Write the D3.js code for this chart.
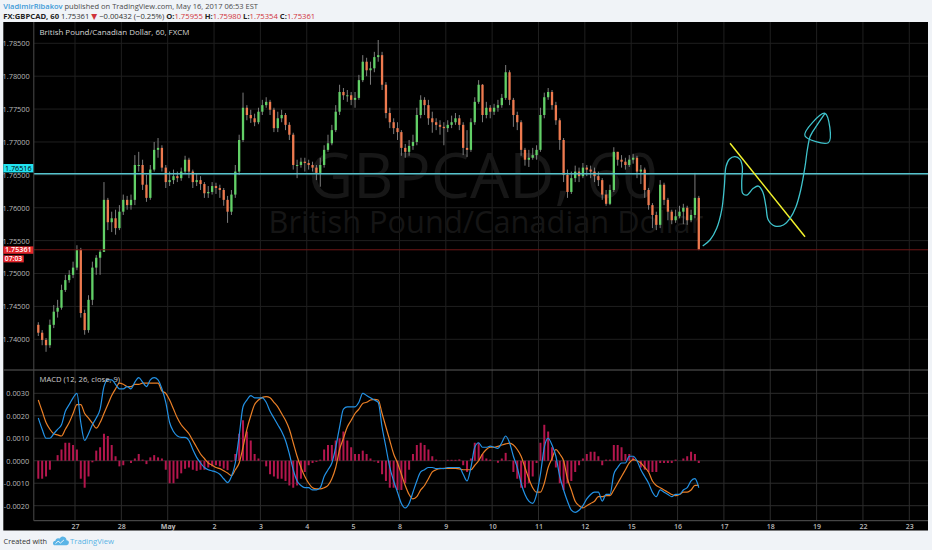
<!DOCTYPE html>
<html><head><meta charset="utf-8">
<script src="https://cdn.jsdelivr.net/npm/d3@7/dist/d3.min.js"></script>
<style>
html,body{margin:0;padding:0;background:#f0f3f7;}
svg{display:block;font-family:"Open Sans","DejaVu Sans",sans-serif;}
text{white-space:pre;}
</style>
</head><body>
<svg id="c" width="932" height="550"></svg>
<script>
// ---------------- DATA (2-hour bars, GBPCAD) ----------------
const barsBeforeFirstDay = 10;   // bars of Apr 26 shown before Apr 27
const barsPerDay = 12;
const firstOpen = 1.7422;
const closes = [
 1.7410,1.7399,1.7391,1.7422,1.7442,1.7448,1.7475,1.7490,1.7498,1.7509,
 1.7536,1.7440,1.7414,1.7460,1.7509,1.7524,1.7533,1.7612,1.7578,1.7584,1.7569,1.7594,
 1.7612,1.7604,1.7612,1.7665,1.7665,1.7635,1.7615,1.7658,1.7688,1.7691,1.7661,1.7639,
 1.7642,1.7648,1.7645,1.7655,1.7673,1.7655,1.7639,1.7642,1.7636,1.7622,1.7624,1.7633,
 1.7630,1.7627,1.7612,1.7594,1.7620,1.7655,1.7703,1.7752,1.7741,1.7736,1.7730,1.7746,
 1.7756,1.7761,1.7749,1.7721,1.7736,1.7741,1.7726,1.7711,1.7665,1.7665,1.7670,1.7668,
 1.7665,1.7661,1.7653,1.7665,1.7688,1.7698,1.7718,1.7746,1.7776,1.7771,1.7771,1.7764,
 1.7767,1.7794,1.7822,1.7809,1.7812,1.7829,1.7832,1.7787,1.7744,1.7730,1.7721,1.7715,
 1.7691,1.7685,1.7694,1.7700,1.7741,1.7764,1.7756,1.7736,1.7730,1.7726,1.7723,1.7721,
 1.7726,1.7730,1.7736,1.7726,1.7691,1.7688,1.7730,1.7761,1.7787,1.7741,1.7752,1.7746,
 1.7752,1.7756,1.7767,1.7806,1.7764,1.7741,1.7730,1.7688,1.7673,1.7676,1.7680,1.7688,
 1.7741,1.7768,1.7776,1.7756,1.7733,1.7703,1.7650,1.7624,1.7645,1.7655,1.7648,1.7661,
 1.7658,1.7655,1.7648,1.7642,1.7620,1.7606,1.7627,1.7685,1.7673,1.7670,1.7665,1.7673,
 1.7676,1.7655,1.7658,1.7627,1.7604,1.7589,1.7574,1.7635,1.7612,1.7594,1.7581,1.7587,
 1.7594,1.7600,1.7581,1.7589,1.7615,1.75361
];
const highs = [
 1.7426,1.7414,1.7402,1.7430,1.7452,1.7460,1.7483,1.7498,1.7505,1.7518,
 1.7543,1.7539,1.7445,1.7467,1.7518,1.7528,1.7536,1.7639,1.7615,1.7594,1.7597,1.7604,
 1.7620,1.7618,1.7620,1.7680,1.7685,1.7673,1.7650,1.7665,1.7700,1.7706,1.7695,1.7665,
 1.7655,1.7658,1.7655,1.7661,1.7679,1.7676,1.7658,1.7652,1.7648,1.7639,1.7633,1.7639,
 1.7638,1.7635,1.7630,1.7618,1.7627,1.7665,1.7711,1.7775,1.7756,1.7749,1.7743,1.7752,
 1.7764,1.7768,1.7764,1.7752,1.7746,1.7749,1.7744,1.7730,1.7714,1.7673,1.7676,1.7676,
 1.7673,1.7670,1.7665,1.7676,1.7695,1.7711,1.7726,1.7756,1.7787,1.7782,1.7779,1.7776,
 1.7776,1.7802,1.7832,1.7828,1.7822,1.7837,1.7855,1.7837,1.7791,1.7752,1.7736,1.7730,
 1.7718,1.7697,1.7703,1.7711,1.7752,1.7771,1.7768,1.7764,1.7746,1.7736,1.7733,1.7730,
 1.7733,1.7740,1.7744,1.7741,1.7730,1.7718,1.7736,1.7768,1.7794,1.7788,1.7761,1.7756,
 1.7758,1.7764,1.7773,1.7817,1.7809,1.7767,1.7746,1.7733,1.7691,1.7688,1.7691,1.7695,
 1.7752,1.7775,1.7782,1.7779,1.7761,1.7736,1.7706,1.7658,1.7655,1.7664,1.7661,1.7668,
 1.7665,1.7664,1.7661,1.7655,1.7645,1.7627,1.7635,1.7692,1.7685,1.7680,1.7676,1.7680,
 1.7682,1.7679,1.7665,1.7661,1.7630,1.7607,1.7594,1.7642,1.7638,1.7615,1.7597,1.7597,
 1.7603,1.7606,1.7603,1.7597,1.7653,1.7618
];
const lows = [
 1.7405,1.7391,1.7381,1.7387,1.7417,1.7433,1.7445,1.7472,1.7486,1.7493,
 1.7505,1.7433,1.7407,1.7410,1.7452,1.7498,1.7498,1.7533,1.7566,1.7563,1.7559,1.7566,
 1.7589,1.7597,1.7597,1.7604,1.7655,1.7627,1.7609,1.7612,1.7655,1.7676,1.7655,1.7630,
 1.7633,1.7636,1.7639,1.7641,1.7652,1.7645,1.7630,1.7633,1.7627,1.7615,1.7615,1.7620,
 1.7621,1.7615,1.7603,1.7577,1.7589,1.7615,1.7650,1.7700,1.7733,1.7729,1.7724,1.7727,
 1.7741,1.7752,1.7741,1.7715,1.7715,1.7730,1.7718,1.7703,1.7658,1.7645,1.7661,1.7655,
 1.7658,1.7655,1.7642,1.7632,1.7661,1.7685,1.7695,1.7715,1.7741,1.7764,1.7761,1.7756,
 1.7752,1.7764,1.7791,1.7800,1.7787,1.7806,1.7822,1.7779,1.7736,1.7721,1.7712,1.7703,
 1.7679,1.7676,1.7679,1.7688,1.7695,1.7736,1.7741,1.7726,1.7714,1.7718,1.7711,1.7695,
 1.7715,1.7721,1.7726,1.7718,1.7680,1.7677,1.7685,1.7726,1.7758,1.7730,1.7736,1.7736,
 1.7741,1.7746,1.7752,1.7764,1.7756,1.7723,1.7718,1.7679,1.7664,1.7662,1.7673,1.7673,
 1.7685,1.7736,1.7764,1.7749,1.7726,1.7688,1.7639,1.7615,1.7621,1.7639,1.7639,1.7645,
 1.7648,1.7645,1.7639,1.7633,1.7612,1.7603,1.7604,1.7624,1.7664,1.7661,1.7658,1.7662,
 1.7667,1.7645,1.7636,1.7615,1.7597,1.7569,1.7566,1.7569,1.7604,1.7581,1.7575,1.7577,
 1.7584,1.7575,1.7574,1.7578,1.7584,1.75354
];
const macdLine = [
 0.0019,0.0014,0.0010,0.0010,0.0012,0.0014,0.0016,0.0022,0.0025,0.0028,
 0.0030,0.0017,0.0009,0.0012,0.0016,0.0019,0.0023,0.0033,0.0036,0.0036,0.0034,0.0032,
 0.0032,0.0033,0.0032,0.0035,0.0037,0.0035,0.0033,0.0036,0.0037,0.0036,0.0032,0.0026,
 0.0017,0.0013,0.0011,0.00104,0.00104,0.0009,0.0005,0.00015,-0.0001,-0.0003,-0.0004,-0.00045,
 -0.0005,-0.0006,-0.0008,-0.00097,-0.0007,-0.0001,0.0011,0.0024,0.0027,0.0029,0.0028,0.0028,
 0.0028,0.0026,0.0022,0.0019,0.0016,0.0013,0.0009,0.0003,-0.0004,-0.0009,-0.0011,-0.0012,
 -0.0012,-0.0013,-0.0013,-0.0012,-0.0007,-0.0004,-0.0001,0.0006,0.0015,0.0023,0.0024,0.0024,
 0.0024,0.0026,0.0030,0.0029,0.0028,0.0027,0.0026,0.0015,0.0006,-0.0003,-0.0009,-0.0014,
 -0.0019,-0.0021,-0.0019,-0.0014,-0.0009,-0.0005,-0.0004,-0.0003,-0.0003,-0.00035,-0.00034,-0.00035,
 -0.0003,-0.0003,-0.0003,-0.0003,-0.0006,-0.0009,-0.0003,0.0006,0.0008,0.0006,0.0006,0.00065,
 0.0006,0.00055,0.0008,0.0011,0.0008,0.0002,-0.0003,-0.0010,-0.0015,-0.0018,-0.0019,-0.0015,
 -0.0006,0.0006,0.0010,0.0007,0.0002,-0.0007,-0.0013,-0.0018,-0.0022,-0.0023,-0.0022,-0.0020,
 -0.0017,-0.0015,-0.0014,-0.0014,-0.0018,-0.0015,-0.0015,-0.0006,-0.0003,-0.0001,-0.0001,0.0002,
 0.0002,0.0000,-0.0004,-0.0007,-0.0010,-0.0014,-0.0016,-0.0013,-0.0014,-0.0015,-0.0016,-0.0015,
 -0.0015,-0.0013,-0.0012,-0.0009,-0.0008,-0.0012
];
const signalLine = [
 0.0027,0.0022,0.0017,0.0014,0.0012,0.00115,0.0011,0.0014,0.0017,0.0021,
 0.0025,0.0025,0.0021,0.0019,0.00167,0.00145,0.0017,0.0021,0.0025,0.0029,0.0032,0.00345,
 0.0034,0.0033,0.0033,0.0034,0.0034,0.00345,0.00345,0.00345,0.00345,0.00345,0.0031,0.0030,
 0.0027,0.0023,0.0019,0.0016,0.0014,0.0012,0.0009,0.0006,0.0003,0.0001,-0.0001,-0.0002,
 -0.0003,-0.00035,-0.00045,-0.00055,-0.00066,-0.0004,-0.0001,0.0006,0.0014,0.0020,0.0025,0.0027,
 0.00282,0.00285,0.0028,0.0026,0.0024,0.0021,0.0018,0.0014,0.0008,0.0002,-0.0003,-0.0007,
 -0.0010,-0.0012,-0.00125,-0.00125,-0.0012,-0.0011,-0.0008,-0.0003,0.0005,0.0010,0.0015,0.0018,
 0.0021,0.0023,0.00255,0.0026,0.0027,0.00273,0.0027,0.0021,0.0015,0.0009,0.0003,-0.0001,
 -0.0006,-0.0011,-0.0015,-0.0017,-0.0016,-0.0013,-0.0011,-0.0008,-0.0005,-0.0004,-0.00035,-0.00034,
 -0.00034,-0.00034,-0.00034,-0.00036,-0.0004,-0.0004,-0.0004,-0.0002,0.0000,0.0003,0.0005,0.0006,
 0.0006,0.00064,0.0007,0.00075,0.00078,0.0007,0.0005,0.0002,-0.0003,-0.0008,-0.0012,-0.0014,
 -0.0014,-0.0010,-0.0003,0.0001,0.0005,0.0003,0.0000,-0.0008,-0.0013,-0.0018,-0.0020,-0.0021,
 -0.0020,-0.0019,-0.0018,-0.0016,-0.0016,-0.00155,-0.00155,-0.0013,-0.0010,-0.0007,-0.0004,-0.0001,
 0.00005,0.0000,-0.0001,-0.0003,-0.0005,-0.0009,-0.0011,-0.0012,-0.0013,-0.0014,-0.0015,-0.00155,
 -0.0015,-0.0014,-0.0014,-0.0013,-0.0011,-0.0011
];
const dayLabels = ["27","28","May","2","3","4","5","8","9","10","11","12","15","16","17","18","19","22","23"];
const priceTicks = [1.74,1.745,1.75,1.755,1.76,1.765,1.77,1.775,1.78,1.785];
const macdTicks = [-0.002,-0.001,0,0.001,0.002,0.003];
const levelPrice = 1.76516;
const lastPrice = 1.75361;
const countdown = "07:03";
// user drawings in (trading-day index, price)
const trendLine = [[14.132,1.76980],[15.750,1.75560]];
const sketchPath = [[13.543,1.75418],[13.700,1.75509],[13.845,1.75687],[13.953,1.75966],[14.009,1.76320],
 [14.045,1.76624],[14.117,1.76736],[14.239,1.76776],[14.347,1.76736],[14.397,1.76624],[14.384,1.76371],
 [14.406,1.76219],[14.492,1.76193],[14.634,1.76295],[14.742,1.76330],[14.837,1.76244],[14.908,1.76016],
 [14.958,1.75814],[15.102,1.75722],[15.282,1.75738],[15.426,1.75839],[15.555,1.76016],[15.657,1.76270],
 [15.750,1.76624],[15.799,1.76878],[15.858,1.77080],[15.916,1.77156],[16.181,1.77436]];
const arrowHead = [[16.181,1.77436],[15.750,1.77090],[16.252,1.76989]];

// ---------------- LAYOUT ----------------
const svg = d3.select("#c");
const outerL = 3.3, plotL = 33.8, plotR = 928, topY = 22, sepY = 370, axisY = 520.7, bottomY = 530.5;
const x = d3.scaleLinear().domain([0,18]).range([75,909.3]);
const yP = d3.scaleLinear().domain([1.74,1.785]).range([339.3,43.3]);
const yM = d3.scaleLinear().domain([-0.002,0.003]).range([505.7,393.3]);
const barX = i => x((i - barsBeforeFirstDay + 0.5) / barsPerDay);

// fit a text element's natural width to a target width by adjusting font size
function fitWidth(sel, target){
  const n = sel.node(); const fs = parseFloat(sel.attr("font-size"));
  const w = n.getComputedTextLength();
  if (w > 0) sel.attr("font-size", (fs*target/w).toFixed(2));
  return sel;
}

const defs = svg.append("defs");
defs.append("clipPath").attr("id","cp").append("rect").attr("x",plotL).attr("y",topY).attr("width",plotR-plotL).attr("height",sepY-topY);
defs.append("clipPath").attr("id","cm").append("rect").attr("x",plotL).attr("y",sepY).attr("width",plotR-plotL).attr("height",axisY-sepY);

svg.append("rect").attr("x",outerL).attr("y",topY).attr("width",plotR-outerL).attr("height",bottomY-topY).attr("fill","#000");

// grids
const grid = svg.append("g");
grid.selectAll(".hp").data(priceTicks).join("line")
  .attr("x1",plotL).attr("x2",plotR).attr("y1",d=>yP(d)).attr("y2",d=>yP(d)).attr("stroke","#1f1f1f");
grid.selectAll(".hm").data(macdTicks).join("line")
  .attr("x1",plotL).attr("x2",plotR).attr("y1",d=>yM(d)).attr("y2",d=>yM(d)).attr("stroke","#2c2c2c");
grid.selectAll(".vp").data(d3.range(dayLabels.length)).join("line")
  .attr("x1",d=>x(d)).attr("x2",d=>x(d)).attr("y1",topY).attr("y2",sepY).attr("stroke","#1f1f1f");
grid.selectAll(".vm").data(d3.range(dayLabels.length)).join("line")
  .attr("x1",d=>x(d)).attr("x2",d=>x(d)).attr("y1",sepY).attr("y2",axisY).attr("stroke","#2c2c2c");

// watermark
const pc = (plotL+plotR)/2 + 2;
fitWidth(svg.append("text").attr("x",pc).attr("y",198).attr("text-anchor","middle")
  .attr("font-size",57).attr("fill","#171717").text("GBPCAD, 60"), 350);
fitWidth(svg.append("text").attr("x",pc+3).attr("y",233).attr("text-anchor","middle")
  .attr("font-size",25).attr("fill","#151515").text("British Pound/Canadian Dollar"), 435);

// price pane
const pp = svg.append("g").attr("clip-path","url(#cp)");
const bars = closes.map((c,i)=>({i, o: i===0?firstOpen:closes[i-1], c, h: highs[i], l: lows[i]}));
pp.selectAll(".wick").data(bars).join("line")
  .attr("x1",d=>barX(d.i)).attr("x2",d=>barX(d.i))
  .attr("y1",d=>yP(Math.max(d.h,d.o,d.c))).attr("y2",d=>yP(Math.min(d.l,d.o,d.c)))
  .attr("stroke","#8a8a8a").attr("stroke-width",0.9);
pp.selectAll(".body").data(bars).join("rect")
  .attr("x",d=>barX(d.i)-1.15).attr("width",2.3)
  .attr("y",d=>yP(Math.max(d.o,d.c)))
  .attr("height",d=>Math.max(1,Math.abs(yP(d.o)-yP(d.c))))
  .attr("fill",d=>d.c>=d.o?"#62d067":"#ee7a4f");

pp.append("line").attr("x1",plotL).attr("x2",plotR).attr("y1",yP(lastPrice)).attr("y2",yP(lastPrice))
  .attr("stroke","#6e1717").attr("stroke-width",1);
pp.append("line").attr("x1",plotL).attr("x2",plotR).attr("y1",yP(levelPrice)).attr("y2",yP(levelPrice))
  .attr("stroke","#55c3cd").attr("stroke-width",1.6);

const dl = d3.line().x(d=>x(d[0])).y(d=>yP(d[1]));
pp.append("path").attr("d",dl(trendLine)).attr("stroke","#f2f22c").attr("stroke-width",1.5).attr("fill","none");
pp.append("path").attr("d",d3.line().x(d=>x(d[0])).y(d=>yP(d[1])).curve(d3.curveCatmullRom)(sketchPath))
  .attr("stroke","#3fc3cc").attr("stroke-width",1.3).attr("fill","none");
pp.append("path").attr("d",d3.line().x(d=>x(d[0])).y(d=>yP(d[1])).curve(d3.curveCatmullRomClosed.alpha(1))(arrowHead))
  .attr("stroke","#3fc3cc").attr("stroke-width",1.3).attr("fill","none");

// MACD pane
const mp = svg.append("g").attr("clip-path","url(#cm)");
const hist = macdLine.map((m,i)=>m-signalLine[i]);
mp.selectAll(".hb").data(hist).join("rect")
  .attr("x",(d,i)=>barX(i)-1).attr("width",2)
  .attr("y",d=>Math.min(yM(0),yM(d))).attr("height",d=>Math.abs(yM(d)-yM(0)))
  .attr("fill","#b3164d");
const ml = d3.line().x((d,i)=>barX(i)).y(d=>yM(d)).curve(d3.curveMonotoneX);
mp.append("path").attr("d",ml(signalLine)).attr("stroke","#ea7f26").attr("stroke-width",1.2).attr("fill","none");
mp.append("path").attr("d",ml(macdLine)).attr("stroke","#2392e6").attr("stroke-width",1.2).attr("fill","none");

// frame lines
svg.append("line").attr("x1",outerL).attr("x2",plotR).attr("y1",sepY).attr("y2",sepY).attr("stroke","#5c5c5c");
svg.append("line").attr("x1",plotL).attr("x2",plotR).attr("y1",axisY).attr("y2",axisY).attr("stroke","#555");
svg.append("line").attr("x1",plotL).attr("x2",plotL).attr("y1",topY).attr("y2",axisY).attr("stroke","#4a4a4a");

// axes
const styleAxis = g => { g.select(".domain").remove(); g.selectAll("text").attr("fill","#b9b9b9").attr("font-size",7.4).attr("font-family","'Open Sans',sans-serif"); };
svg.append("g").attr("transform",`translate(${plotL},0)`)
  .call(d3.axisLeft(yP).tickValues(priceTicks).tickFormat(d3.format(".5f")).tickSize(0).tickPadding(4)).call(styleAxis);
svg.append("g").attr("transform",`translate(${plotL},0)`)
  .call(d3.axisLeft(yM).tickValues(macdTicks).tickFormat(d=>d3.format(".4f")(d).replace("\u2212","-")).tickSize(0).tickPadding(4.5)).call(styleAxis);
const xa = svg.append("g").attr("transform",`translate(0,${axisY})`)
  .call(d3.axisBottom(x).tickValues(d3.range(dayLabels.length)).tickFormat(i=>dayLabels[i]).tickSize(0).tickPadding(3.3)).call(styleAxis);
xa.selectAll("text").attr("font-weight",(d)=>dayLabels[d]==="May"?"bold":"600").attr("font-size",7);

// price labels on the axis
const lv = svg.append("g");
lv.append("rect").attr("x",outerL).attr("y",yP(levelPrice)-9.8).attr("width",30).attr("height",8.4).attr("fill","#22e3f0");
lv.append("text").attr("x",outerL+15).attr("y",yP(levelPrice)-3.2).attr("text-anchor","middle").attr("font-size",7.2).attr("fill","#000").text(d3.format(".5f")(levelPrice));
lv.append("rect").attr("x",outerL).attr("y",yP(lastPrice)-3.4).attr("width",30).attr("height",7.4).attr("fill","#e3262c");
lv.append("text").attr("x",outerL+15).attr("y",yP(lastPrice)+2.6).attr("text-anchor","middle").attr("font-size",7.2).attr("fill","#fff").attr("font-weight",600).text(d3.format(".5f")(lastPrice));
lv.append("rect").attr("x",outerL).attr("y",yP(lastPrice)+5.6).attr("width",20.5).attr("height",7).attr("fill","#e3262c");
lv.append("text").attr("x",outerL+10.2).attr("y",yP(lastPrice)+11.2).attr("text-anchor","middle").attr("font-size",6.8).attr("fill","#fff").attr("font-weight",600).text(countdown);

// legends
fitWidth(svg.append("text").attr("x",39.5).attr("y",34.6).attr("font-size",8.6).attr("fill","#d6d6d6")
  .text("British Pound/Canadian Dollar, 60, FXCM"), 150);
fitWidth(svg.append("text").attr("x",39.5).attr("y",382.4).attr("font-size",8.6).attr("fill","#cfcfcf")
  .text("MACD (12, 26, close, 9)"), 80.5);

// header
const h1 = svg.append("text").attr("x",3.3).attr("y",9.3).attr("font-size",9);
h1.append("tspan").attr("fill","#3c9ad8").attr("font-weight",600).text("VladimirRibakov");
h1.append("tspan").attr("fill","#4a4a4a").text(" published on TradingView.com, May 16, 2017 06:53 EST");
fitWidth(h1, 255);
const h2 = svg.append("text").attr("x",3.3).attr("y",18.6).attr("font-size",9);
const red = "#d0333b", dark = "#222";
[["FX:GBPCAD, 60",dark,700],[" 1.75361 ","#333",400],["\u25BC",red,400],[" \u22120.00432 (\u22120.25%) ","#333",400],
 ["O:",dark,700],["1.75955",red,400],[" H:",dark,700],["1.75980",red,400],[" L:",dark,700],["1.75354",red,400],
 [" C:",dark,700],["1.75361",red,400]].forEach(([t,c,w])=>h2.append("tspan").attr("fill",c).attr("font-weight",w).text(t));
fitWidth(h2, 312);

// footer
fitWidth(svg.append("text").attr("x",3.6).attr("y",544).attr("font-size",9).attr("fill","#333").text("Created with"), 43.5);
svg.append("path").attr("d","M54,545.2 h12.3 a2.5,2.5 0 0 0 0.2,-5 a3.6,3.6 0 0 0 -6.8,-1.6 a2.8,2.8 0 0 0 -4.3,2.2 a2.4,2.4 0 0 0 -1.4,4.4 z").attr("fill","#5ab4e6");
svg.append("path").attr("d","M55.5,543.6 l2.6,-2.4 l2.4,1.8 l3.4,-3").attr("stroke","#fff").attr("stroke-width",0.9).attr("fill","none");
fitWidth(svg.append("text").attr("x",70).attr("y",544).attr("font-size",9).attr("fill","#5ab4e6").text("TradingView"), 44);
</script>
</body></html>
